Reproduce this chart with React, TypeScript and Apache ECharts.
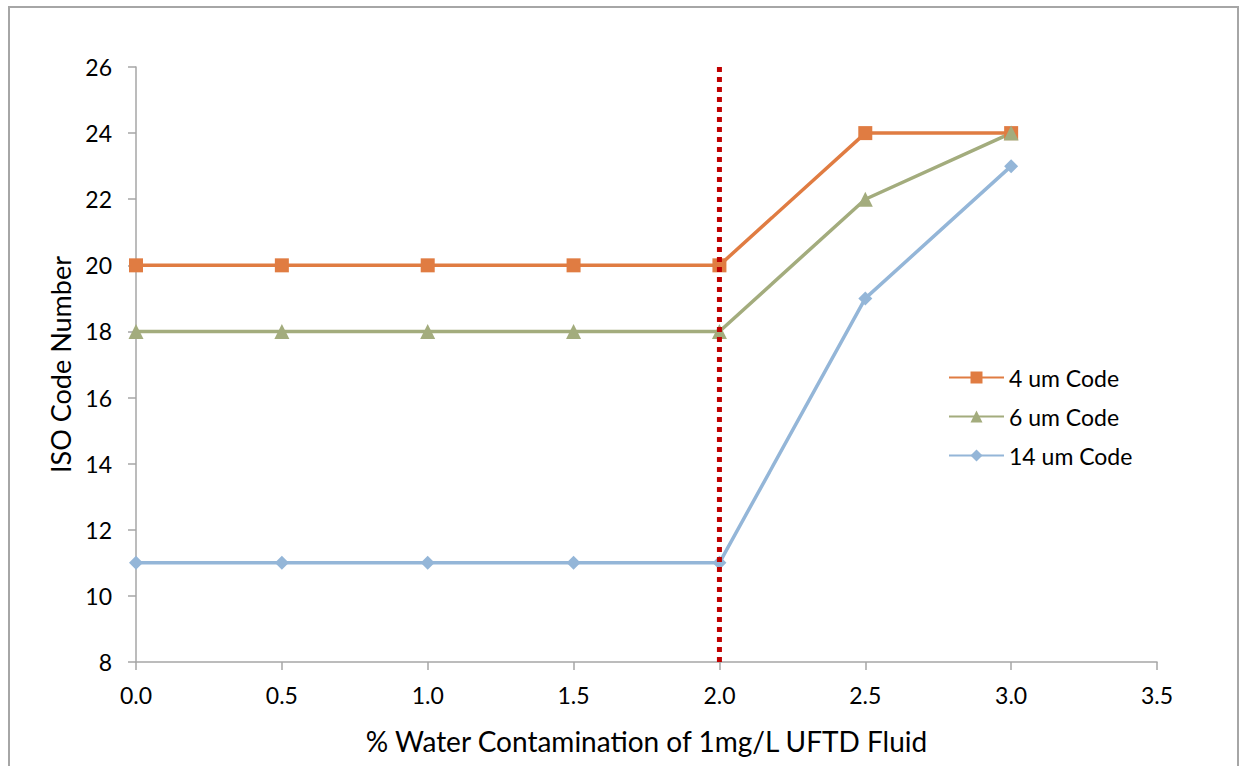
import React, { useEffect, useRef } from "react";
import * as echarts from "echarts";

const xValues = [0, 0.5, 1.0, 1.5, 2.0, 2.5, 3.0];
const code4um = [20, 20, 20, 20, 20, 24, 24];
const code6um = [18, 18, 18, 18, 18, 22, 24];
const code14um = [11, 11, 11, 11, 11, 19, 23];
const seriesNames = ["4 um Code", "6 um Code", "14 um Code"];
const thresholdX = 2.0;

const FONT = "Lato, 'Open Sans', sans-serif";

export default function App() {
  const ref = useRef<HTMLDivElement>(null);
  useEffect(() => {
    if (!ref.current) return;
    const chart = echarts.init(ref.current, null, { renderer: "svg" });
    const pair = (ys: number[]) => xValues.map((x, i) => [x, ys[i]]);
    chart.setOption({
      animation: false,
      backgroundColor: "#ffffff",
      textStyle: { fontFamily: FONT },
      grid: { left: 126, top: 59, right: 80, bottom: 110 },
      legend: {
        orient: "vertical",
        left: 933,
        top: 353,
        itemWidth: 55,
        itemHeight: 15,
        itemGap: 16,
        data: seriesNames,
        textStyle: { fontSize: 23, color: "#000", fontFamily: FONT },
      },
      xAxis: {
        type: "value",
        min: 0,
        max: 3.5,
        interval: 0.5,
        name: "% Water Contamination of 1mg/L UFTD Fluid",
        nameLocation: "middle",
        nameGap: 65,
        nameTextStyle: { fontSize: 28, color: "#000", fontFamily: FONT },
        axisLine: { lineStyle: { color: "#a6a6a6", width: 1.5 } },
        axisTick: { show: true, length: 8, inside: false, lineStyle: { color: "#a6a6a6", width: 1.5 } },
        axisLabel: { fontSize: 23, color: "#000", margin: 21, formatter: (v: number) => v.toFixed(1) },
        splitLine: { show: false },
      },
      yAxis: {
        type: "value",
        min: 8,
        max: 26,
        interval: 2,
        name: "ISO Code Number",
        nameLocation: "middle",
        nameGap: 57,
        nameTextStyle: { fontSize: 27, color: "#000", fontFamily: FONT },
        axisLine: { show: true, lineStyle: { color: "#a6a6a6", width: 1.5 } },
        axisTick: { show: true, length: 8, lineStyle: { color: "#a6a6a6", width: 1.5 } },
        axisLabel: { fontSize: 23, color: "#000", margin: 24 },
        splitLine: { show: false },
      },
      series: [
        {
          name: "Threshold",
          type: "line",
          data: [[thresholdX, 8], [thresholdX, 26]],
          symbol: "none",
          lineStyle: { color: "#c00000", width: 5, type: [5, 5] },
          z: 5,
          legendHoverLink: false,
        },
        {
          name: seriesNames[0],
          type: "line",
          data: pair(code4um),
          symbol: "rect",
          symbolSize: 14,
          color: "#e07c42",
          lineStyle: { width: 3.5, color: "#e07c42" },
          itemStyle: { color: "#e07c42" },
          z: 3,
        },
        {
          name: seriesNames[1],
          type: "line",
          data: pair(code6um),
          symbol: "triangle",
          symbolSize: 15,
          color: "#a3ac7d",
          lineStyle: { width: 3.5, color: "#a3ac7d" },
          itemStyle: { color: "#a3ac7d" },
          z: 3,
        },
        {
          name: seriesNames[2],
          type: "line",
          data: pair(code14um),
          symbol: "diamond",
          symbolSize: 14,
          color: "#94b6d8",
          lineStyle: { width: 3.5, color: "#94b6d8" },
          itemStyle: { color: "#94b6d8" },
          z: 3,
        },
      ],
    });
    return () => chart.dispose();
  }, []);
  return (
    <div
      style={{
        position: "fixed",
        left: 8,
        top: 6,
        width: 1231,
        height: 770,
        border: "2px solid #a6a6a6",
        borderBottom: "none",
        background: "#fff",
        boxSizing: "border-box",
      }}
    >
      <div ref={ref} style={{ width: "100%", height: 764 }} />
    </div>
  );
}
